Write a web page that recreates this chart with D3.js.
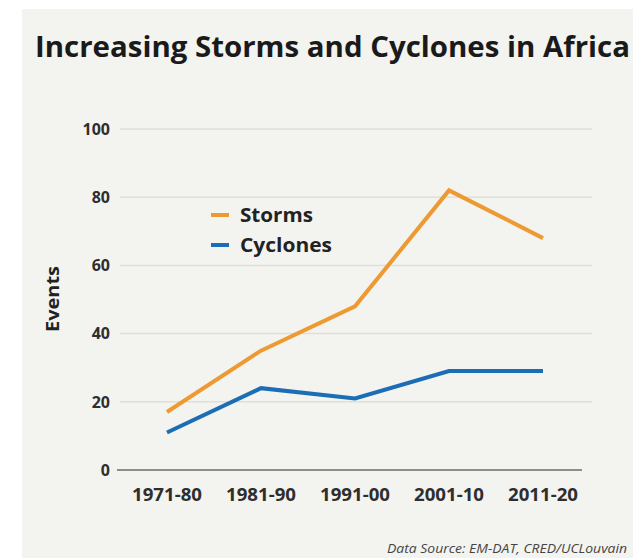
<!DOCTYPE html>
<html>
<head>
<meta charset="utf-8">
<script src="https://cdn.jsdelivr.net/npm/d3@7"></script>
<style>
  html, body { margin: 0; padding: 0; background: #fff; overflow: hidden; }
  text { font-family: 'Open Sans', sans-serif; }
</style>
</head>
<body>
<script>
let periods = ['1971-80', '1981-90', '1991-00', '2001-10', '2011-20']
let storms = [17, 35, 48, 82, 68]
let cyclones = [11, 24, 21, 29, 29]
let yTicks = [0, 20, 40, 60, 80, 100]
let seriesNames = ['Storms', 'Cyclones']
let seriesColors = ['#ee9a32', '#1b6db5']

renderChart()

function renderChart() {
  let width = 633
  let height = 558

  let svg = d3.select('body').append('svg')
    .attr('width', width)
    .attr('height', height)

  // off-white panel
  svg.append('rect')
    .attr('x', 22).attr('y', 9)
    .attr('width', width - 22).attr('height', height - 9)
    .attr('fill', '#f3f3ef')

  let xScale = d3.scalePoint()
    .domain(periods)
    .range([167, 543])

  let yScale = d3.scaleLinear()
    .domain([0, 100])
    .range([470, 129])

  // gridlines
  svg.append('g')
    .selectAll('line')
    .data(yTicks.filter(d => d > 0))
    .enter()
    .append('line')
    .attr('x1', 120).attr('x2', 592)
    .attr('y1', d => yScale(d)).attr('y2', d => yScale(d))
    .attr('stroke', '#dfdfda')
    .attr('stroke-width', 1.5)

  // baseline
  svg.append('line')
    .attr('x1', 117).attr('x2', 582)
    .attr('y1', yScale(0)).attr('y2', yScale(0))
    .attr('stroke', '#6b6b6b')
    .attr('stroke-width', 1.5)

  // y tick labels
  svg.append('g')
    .selectAll('text')
    .data(yTicks)
    .enter()
    .append('text')
    .attr('x', 110)
    .attr('y', d => yScale(d))
    .attr('dy', '0.36em')
    .attr('text-anchor', 'end')
    .attr('font-size', 16)
    .attr('font-weight', 700)
    .attr('fill', '#2e2e2e')
    .text(d => d)

  // x tick labels
  svg.append('g')
    .selectAll('text')
    .data(periods)
    .enter()
    .append('text')
    .attr('x', d => xScale(d))
    .attr('y', 501)
    .attr('text-anchor', 'middle')
    .attr('font-size', 17)
    .attr('font-weight', 700)
    .attr('fill', '#2e2e2e')
    .attr('textLength', 70)
    .attr('lengthAdjust', 'spacingAndGlyphs')
    .text(d => d)

  // y axis title
  svg.append('text')
    .attr('transform', 'translate(59,299) rotate(-90)')
    .attr('text-anchor', 'middle')
    .attr('font-size', 17)
    .attr('font-weight', 700)
    .attr('fill', '#222')
    .attr('textLength', 66)
    .attr('lengthAdjust', 'spacingAndGlyphs')
    .text('Events')

  let line = d3.line()
    .x((d, i) => xScale(periods[i]))
    .y(d => yScale(d))
    .curve(d3.curveLinear)

  let series = [storms, cyclones]
  svg.append('g')
    .selectAll('path')
    .data(series)
    .enter()
    .append('path')
    .attr('fill', 'none')
    .attr('stroke', (d, i) => seriesColors[i])
    .attr('stroke-width', 4)
    .attr('stroke-linejoin', 'miter')
    .attr('d', d => line(d))

  // legend
  let legend = svg.append('g')
    .selectAll('g')
    .data(seriesNames)
    .enter()
    .append('g')
    .attr('transform', (d, i) => `translate(211,${215 + i * 30})`)

  legend.append('line')
    .attr('x1', 0).attr('x2', 18)
    .attr('stroke', (d, i) => seriesColors[i])
    .attr('stroke-width', 4)

  legend.append('text')
    .attr('x', 29)
    .attr('dy', '0.36em')
    .attr('font-size', 19)
    .attr('font-weight', 700)
    .attr('fill', '#222')
    .attr('textLength', (d, i) => i === 0 ? 73 : 92)
    .attr('lengthAdjust', 'spacingAndGlyphs')
    .text(d => d)

  // title
  svg.append('text')
    .attr('x', 35)
    .attr('y', 57)
    .attr('font-size', 29)
    .attr('font-weight', 700)
    .attr('fill', '#1a1a1a')
    .attr('textLength', 595)
    .attr('lengthAdjust', 'spacingAndGlyphs')
    .text('Increasing Storms and Cyclones in Africa')

  // source
  svg.append('text')
    .attr('x', 387)
    .attr('y', 553)
    .attr('font-size', 12)
    .attr('font-style', 'italic')
    .attr('fill', '#444')
    .attr('textLength', 240)
    .attr('lengthAdjust', 'spacingAndGlyphs')
    .text('Data Source: EM-DAT, CRED/UCLouvain')
}
</script>
</body>
</html>
